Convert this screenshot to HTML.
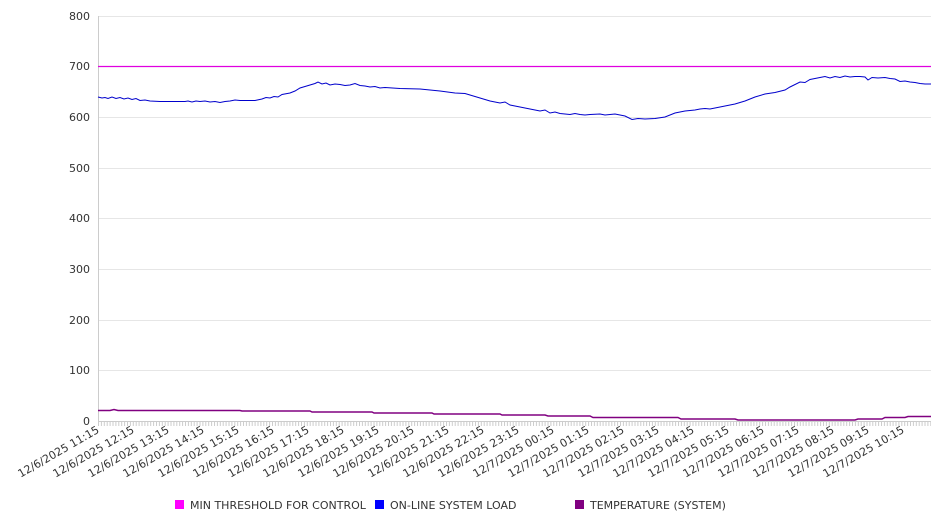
<!DOCTYPE html>
<html><head><style>body{margin:0;background:#fff}svg{font-family:"DejaVu Sans","Liberation Sans",sans-serif}</style></head><body>
<svg width="946" height="526" xmlns="http://www.w3.org/2000/svg">
<defs><pattern id="tk" x="98" y="0" width="2.9" height="10" patternUnits="userSpaceOnUse"><line x1="0.5" x2="0.5" y1="0" y2="10" stroke="#ccc" stroke-width="1"/></pattern></defs>
<g stroke="#e6e6e6" stroke-width="1">
<line x1="98" x2="931" y1="16.5" y2="16.5"/><line x1="98" x2="931" y1="66.5" y2="66.5"/><line x1="98" x2="931" y1="117.5" y2="117.5"/><line x1="98" x2="931" y1="168.5" y2="168.5"/><line x1="98" x2="931" y1="218.5" y2="218.5"/><line x1="98" x2="931" y1="269.5" y2="269.5"/><line x1="98" x2="931" y1="320.5" y2="320.5"/><line x1="98" x2="931" y1="370.5" y2="370.5"/>
</g>
<rect x="98" y="422" width="833" height="4" fill="url(#tk)"/>
<line x1="98.5" x2="98.5" y1="16" y2="421" stroke="#ccc"/>
<line x1="98" x2="931" y1="421.5" y2="421.5" stroke="#ccc"/>
<g font-size="11" fill="#333" text-anchor="end">
<text x="90" y="20">800</text><text x="90" y="70">700</text><text x="90" y="121">600</text><text x="90" y="172">500</text><text x="90" y="222">400</text><text x="90" y="273">300</text><text x="90" y="324">200</text><text x="90" y="374">100</text><text x="90" y="425">0</text>
</g>
<line x1="98" x2="931" y1="66.5" y2="66.5" stroke="#e000e0" stroke-width="1.2"/>
<polyline fill="none" stroke="#0000cc" stroke-width="1" points="98,97 102,98 105,97.5 108,98.5 112,97 116,98.5 120,97.5 124,99 128,98 132,99.5 136,98.5 140,100.5 145,100 150,101 160,101.5 185,101.5 188,101 192,102 196,101 200,101.5 205,101 210,102 215,101.5 220,102.5 225,101.5 230,101 235,100 240,100.5 255,100.5 262,99 266,97.5 270,98 274,96.5 278,97 282,94.5 290,93 295,91 300,88 305,86.5 310,85 315,83.5 318,82 322,84 326,83 330,85 335,84 340,84.5 345,85.5 350,85 355,83.5 360,85.5 365,86 370,87 375,86.5 380,88 385,87.5 400,88.5 420,89 440,91 455,93 465,93.5 470,95 480,98 490,101 500,103 505,102 510,105 520,107 530,109 540,111 545,110 550,113 555,112 560,113.5 570,114.5 575,113.5 580,114.5 585,115 590,114.5 600,114 605,115 615,114 625,116 632,119.5 638,118.5 645,119 655,118.5 665,117 675,113 685,111 695,110 700,109 705,108.5 710,109 715,108 725,106 735,104 745,101 755,97 765,94 775,92.5 785,90 790,87 800,82 805,82.5 810,79.5 820,77.5 825,76.5 830,78 835,76.5 840,77.5 845,76 850,77 855,76.5 860,76.5 865,77 868,80 872,77.5 878,78 885,77.5 890,78.5 895,79 900,81.5 905,81 910,82 915,82.5 920,83.5 925,84 931,84"/>
<polyline fill="none" stroke="#800080" stroke-width="1.5" points="98,410.5 110,410.5 114,409.5 118,410.5 240,410.5 242,411 310,411 312,412 372,412 374,413 432,413 434,414 500,414 502,415 545,415 548,416 590,416 593,417.5 678,417.5 681,419 735,419 738,420 855,420 858,419 882,419 885,417.5 905,417.5 908,416.5 931,416.5"/>
<g font-size="11" fill="#333" text-anchor="end">
<text transform="translate(100,432) rotate(-30)">12/6/2025 11:15</text>
<text transform="translate(135,432) rotate(-30)">12/6/2025 12:15</text>
<text transform="translate(170,432) rotate(-30)">12/6/2025 13:15</text>
<text transform="translate(205,432) rotate(-30)">12/6/2025 14:15</text>
<text transform="translate(240,432) rotate(-30)">12/6/2025 15:15</text>
<text transform="translate(275,432) rotate(-30)">12/6/2025 16:15</text>
<text transform="translate(310,432) rotate(-30)">12/6/2025 17:15</text>
<text transform="translate(345,432) rotate(-30)">12/6/2025 18:15</text>
<text transform="translate(380,432) rotate(-30)">12/6/2025 19:15</text>
<text transform="translate(415,432) rotate(-30)">12/6/2025 20:15</text>
<text transform="translate(450,432) rotate(-30)">12/6/2025 21:15</text>
<text transform="translate(485,432) rotate(-30)">12/6/2025 22:15</text>
<text transform="translate(520,432) rotate(-30)">12/6/2025 23:15</text>
<text transform="translate(555,432) rotate(-30)">12/7/2025 00:15</text>
<text transform="translate(590,432) rotate(-30)">12/7/2025 01:15</text>
<text transform="translate(625,432) rotate(-30)">12/7/2025 02:15</text>
<text transform="translate(660,432) rotate(-30)">12/7/2025 03:15</text>
<text transform="translate(695,432) rotate(-30)">12/7/2025 04:15</text>
<text transform="translate(730,432) rotate(-30)">12/7/2025 05:15</text>
<text transform="translate(765,432) rotate(-30)">12/7/2025 06:15</text>
<text transform="translate(800,432) rotate(-30)">12/7/2025 07:15</text>
<text transform="translate(835,432) rotate(-30)">12/7/2025 08:15</text>
<text transform="translate(870,432) rotate(-30)">12/7/2025 09:15</text>
<text transform="translate(905,432) rotate(-30)">12/7/2025 10:15</text>
</g>
<g font-size="11" fill="#333">
<rect x="175" y="500" width="9" height="9" fill="#ff00ff"/><text x="190" y="509">MIN THRESHOLD FOR CONTROL</text>
<rect x="375" y="500" width="9" height="9" fill="#0000ff"/><text x="390" y="509">ON-LINE SYSTEM LOAD</text>
<rect x="575" y="500" width="9" height="9" fill="#800080"/><text x="590" y="509">TEMPERATURE (SYSTEM)</text>
</g>
</svg>
</body></html>
